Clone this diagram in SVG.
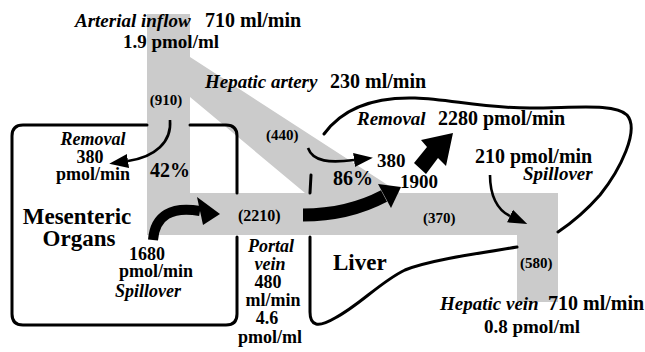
<svg xmlns="http://www.w3.org/2000/svg" width="645" height="352" viewBox="0 0 645 352">
<style>
text{font-family:"Liberation Serif","Tinos","DejaVu Serif","Times New Roman",serif;font-weight:bold;fill:#000;font-size:20px}
.i{font-style:italic;font-size:19px}
.s{font-size:15px}
.b{font-size:23px}
.k{font-size:18px}
.n{font-size:19px}
.m{text-anchor:middle}
.ln{fill:none;stroke:#000;stroke-width:3;stroke-linecap:round}
.ar{fill:none;stroke:#000;stroke-width:2.6}
</style>
<defs>
<marker id="ah" markerUnits="userSpaceOnUse" markerWidth="20" markerHeight="16" refX="0" refY="8" orient="auto" viewBox="0 0 20 16">
<path d="M0,1 L19,8 L0,15 Z" fill="#000"/>
</marker>
</defs>
<rect width="645" height="352" fill="#fff"/>
<g id="vessels">
<path d="M147,14 L190,14 L190,57 L400,193 L558,193 L558,302 L517,302 L517,235 L147,235 Z M190,97 L305,193 L190,193 Z" fill="#cbcbcb" fill-rule="evenodd"/>
</g>
<g id="mesenteric">
<path class="ln" d="M147,125 L23,125 Q12,125 12,136 L12,314 Q12,325 23,325 L226,325 Q237,325 237,314 L237,237"/>
<path class="ln" d="M190,125 L226,125 Q237,125 237,136 L237,193"/>
<text class="b m" x="77" y="224">Mesenteric</text>
<text class="b m" x="79" y="246">Organs</text>
</g>
<g id="liver">
<path class="ln" d="M324,134 C345,105 380,97 415,98 C450,99 480,108 530,108 C575,108 615,103 627,115 C640,130 620,170 600,195 C585,212 570,224 558,232"/>
<path class="ln" d="M517,247 C480,253 430,260 405,270 C380,282 360,305 335,318 C318,328 310,326 310,312 L310,237"/>
<path class="ln" d="M311,175 L310,193"/>
<text class="b" x="333" y="270">Liver</text>
</g>
<g id="connectors">
<path class="ar" d="M170,120 C172,142 155,157 128,161" marker-end="url(#ah)"/>
<path class="ar" d="M308,148 C313,162 330,163 354,160" marker-end="url(#ah)"/>
<path class="ar" d="M490,175 C490,195 497,210 510,216" marker-end="url(#ah)"/>
<path d="M153,240 C155,215 172,206 200,211" fill="none" stroke="#000" stroke-width="10"/>
<polygon points="220,214 197,197 203,225" fill="#000"/>
<path d="M303,215 C340,215 365,206 384,196" fill="none" stroke="#000" stroke-width="13"/>
<polygon points="401,187 378,184 391,208" fill="#000"/>
<polygon points="453,133 446,166 438,158 426,174 414,163 427,147 421,140" fill="#000"/>
</g>
<g id="labels">
<text class="i" x="75" y="27">Arterial inflow</text>
<text x="205" y="27">710 ml/min</text>
<text class="m n" x="171" y="48">1.9 pmol/ml</text>
<text class="i" x="205" y="88">Hepatic artery</text>
<text x="330" y="88">230 ml/min</text>
<text class="s m" x="166" y="105">(910)</text>
<text class="i m k" x="93" y="145">Removal</text>
<text class="m k" x="90" y="163">380</text>
<text class="m k" x="93" y="180">pmol/min</text>
<text x="150" y="177">42%</text>
<text class="m k" x="147" y="260">1680</text>
<text class="m k" x="156" y="277">pmol/min</text>
<text class="i m k" x="148" y="297">Spillover</text>
<text class="s" x="238" y="221" style="font-size:16px">(2210)</text>
<text class="i m k" x="271" y="252">Portal</text>
<text class="i m k" x="270" y="270">vein</text>
<text class="m k" x="268" y="288">480</text>
<text class="m k" x="273" y="306">ml/min</text>
<text class="m k" x="267" y="324">4.6</text>
<text class="m k" x="270" y="343">pmol/ml</text>
<text class="s" x="266" y="140">(440)</text>
<text class="i" x="357" y="125">Removal</text>
<text x="438" y="125">2280 pmol/min</text>
<text class="n" x="377" y="167">380</text>
<text x="333" y="185">86%</text>
<text class="n" x="400" y="188">1900</text>
<text x="475" y="163">210 pmol/min</text>
<text class="i" x="523" y="180">Spillover</text>
<text class="s" x="423" y="223">(370)</text>
<text class="s" x="520" y="268">(580)</text>
<text class="i" x="440" y="310">Hepatic vein</text>
<text x="548" y="310">710 ml/min</text>
<text class="m n" x="532" y="333">0.8 pmol/ml</text>
</g>
</svg>
